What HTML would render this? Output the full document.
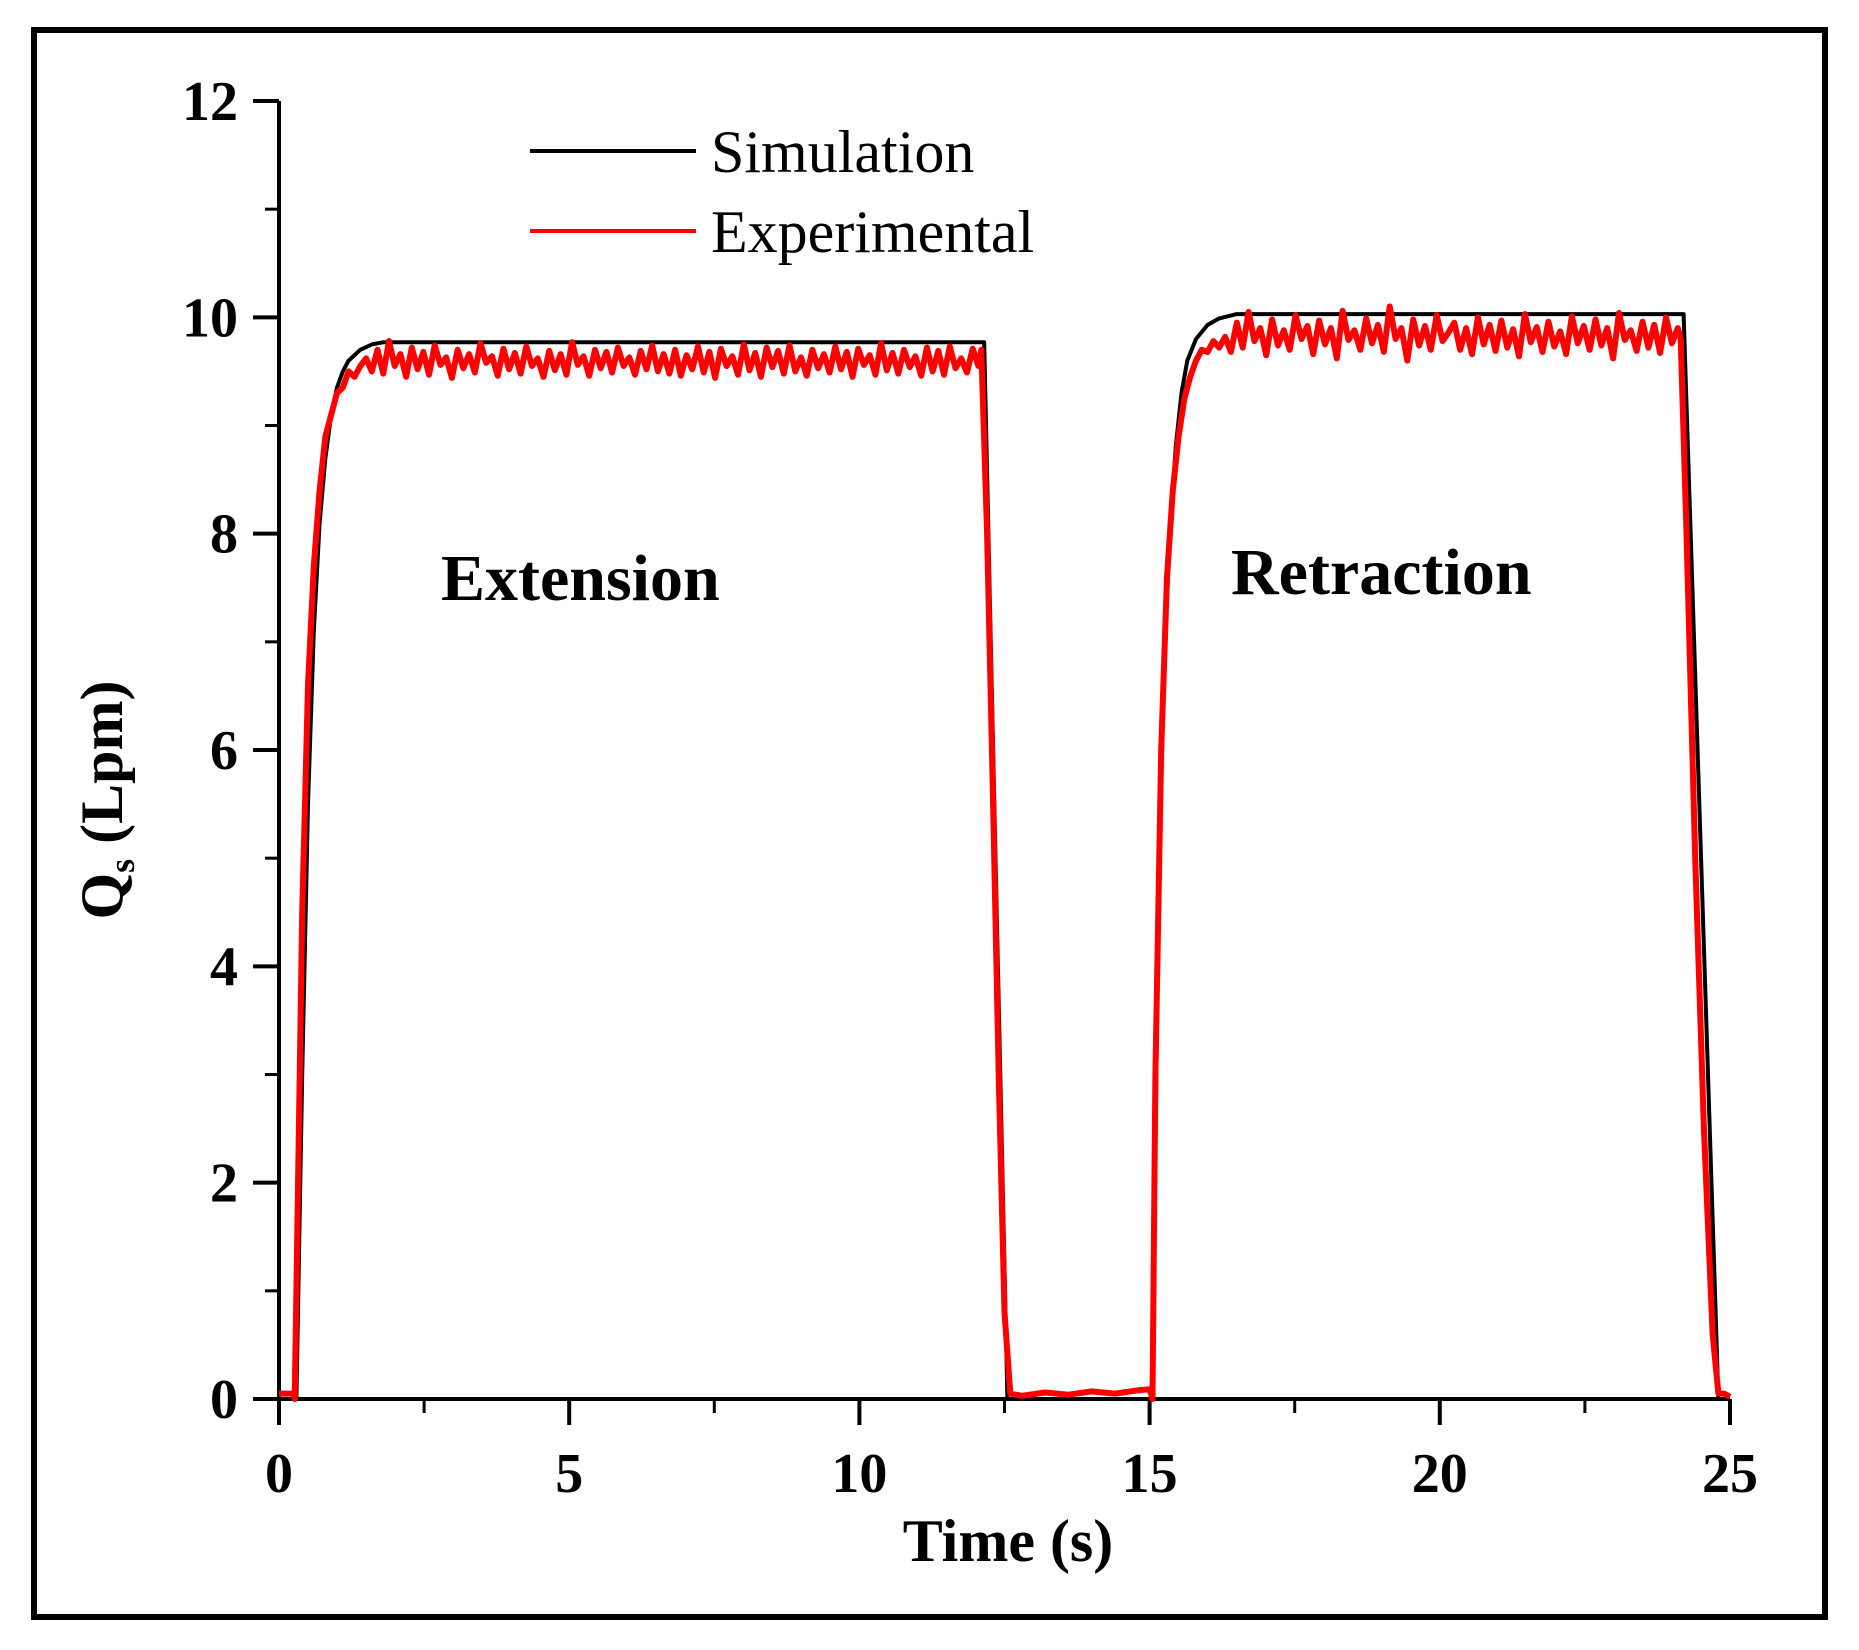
<!DOCTYPE html>
<html><head><meta charset="utf-8"><style>
html,body{margin:0;padding:0;background:#fff;}
svg{display:block;}
text{font-family:"Liberation Serif",serif;}
</style></head><body>
<svg id="chart" width="1859" height="1650" viewBox="0 0 1859 1650">
<rect x="34" y="30" width="1791" height="1587" fill="none" stroke="#000" stroke-width="6"/>
<g id="axes"></g>
<g id="series"></g>
<text x="1008" y="1561" font-size="60" font-weight="bold" text-anchor="middle">Time (s)</text>
<text transform="translate(122,800) rotate(-90)" font-size="60" font-weight="bold" text-anchor="middle">Q<tspan font-size="36" dy="12">s</tspan><tspan dy="-12"> (Lpm)</tspan></text>
<g>
<line x1="530" y1="151" x2="696" y2="151" stroke="#000" stroke-width="4"/>
<text x="711" y="172" font-size="60">Simulation</text>
<line x1="530" y1="231" x2="696" y2="231" stroke="#f00" stroke-width="4"/>
<text x="711" y="252" font-size="60">Experimental</text>
</g>
<text x="441" y="600" font-size="66" font-weight="bold">Extension</text>
<text x="1231" y="594" font-size="66" font-weight="bold">Retraction</text>
</svg>
<script>
const xTicks=[0,5,10,15,20,25];
const yTicks=[0,2,4,6,8,10,12];
const simT=[0,0.3,0.4,0.5,0.6,0.7,0.8,0.9,1.0,1.1,1.2,1.4,1.6,1.8,12.15,12.55,15.05,15.15,15.25,15.35,15.45,15.55,15.65,15.8,16.0,16.2,16.5,24.2,24.8,25];
const simQ=[0,0,3,5.5,7.1,8.1,8.7,9.1,9.35,9.5,9.6,9.7,9.75,9.77,9.77,0,0,4.5,6.8,8.0,8.8,9.3,9.6,9.8,9.93,9.99,10.03,10.03,0,0];
const expRiseT=[0,0.25,0.27,0.3,0.4,0.5,0.6,0.7,0.8,0.9,1.0,1.1,1.2,1.3,1.4];
const expRiseQ=[0.05,0.05,0.0,1.0,4.5,6.6,7.7,8.4,8.9,9.1,9.3,9.35,9.5,9.45,9.55];
const expPlat1=[9.62,9.5,9.7,9.48,9.78,9.55,9.66,9.45,9.72,9.52,9.68,9.47,9.74,9.56,9.63,9.44,9.7,9.53,9.66,9.49,9.76,9.58,9.64,9.46,9.71,9.52,9.67,9.48,9.73,9.55,9.62,9.45,9.69,9.51,9.66,9.47,9.77,9.56,9.64,9.46,9.7,9.53,9.68,9.49,9.72,9.55,9.63,9.47,9.69,9.52,9.74,9.5,9.66,9.48,
9.7,9.46,9.65,9.52,9.73,9.49,9.68,9.44,9.71,9.55,9.64,9.47,9.75,9.51,9.67,9.45,9.72,9.54,9.69,9.48,9.74,9.5,9.63,9.46,9.7,9.53,9.66,9.49,9.73,9.52,9.68,9.45,9.71,9.56,9.65,9.47,9.76,9.51,9.67,9.48,9.7,9.54,9.64,9.46,9.72,9.5,9.69,9.47,9.73,9.53,9.62,9.49,9.71,9.55];
const expFallT=[12.1,12.2,12.3,12.4,12.5,12.6,12.8,13.2,13.6,14.0,14.4,14.8,15.0,15.05,15.1,15.2,15.3,15.4,15.5,15.6,15.7,15.8,15.9,16.0,16.1,16.2];
const expFallQ=[9.7,8.0,5.6,3.0,0.8,0.05,0.03,0.06,0.04,0.07,0.05,0.08,0.09,0.0,3.0,6.0,7.6,8.4,8.9,9.25,9.45,9.6,9.7,9.68,9.78,9.72];
const expPlat2=[9.82,9.68,9.95,9.72,10.05,9.78,9.9,9.65,9.98,9.74,9.88,9.7,10.02,9.8,9.92,9.66,9.97,9.75,9.9,9.62,10.06,9.79,9.88,9.7,9.99,9.76,9.93,9.68,10.1,9.8,9.9,9.6,9.98,9.74,9.92,9.7,10.02,9.78,9.86,
9.95,9.7,9.9,9.66,10.0,9.75,9.93,9.69,9.97,9.72,9.89,9.64,10.03,9.77,9.91,9.68,9.96,9.73,9.87,9.66,10.01,9.76,9.92,9.7,9.98,9.74,9.9,9.62,10.04,9.79,9.88,9.69,9.96,9.72,9.93,9.67,10.0,9.76,9.9];
const expEndT=[24.15,24.25,24.4,24.55,24.7,24.8,24.9,25];
const expEndQ=[9.8,8.0,5.0,2.5,0.6,0.05,0.05,0.02];
const X0=279,X1=1730,Y0=1399,Y1=101;
const sx=t=>X0+(X1-X0)*t/25, sy=q=>Y0-(Y0-Y1)*q/12;
const NS='http://www.w3.org/2000/svg';
const axes=document.getElementById('axes'), ser=document.getElementById('series');
function mk(tag,attrs,parent){const e=document.createElementNS(NS,tag);for(const k in attrs)e.setAttribute(k,attrs[k]);parent.appendChild(e);return e;}
let e=mk('line',{x1:X0,y1:Y0,x2:X1,y2:Y0,stroke:'#000','stroke-width':4},axes);


e=mk('line',{x1:X0,y1:Y0,x2:X0,y2:Y1,stroke:'#000','stroke-width':4},axes);


for(let i=0;i<xTicks.length;i++){const x=sx(xTicks[i]);
e=mk('line',{x1:x,y1:Y0,x2:x,y2:Y0+26,stroke:'#000','stroke-width':4},axes);


if(i<xTicks.length-1){const xm=sx(xTicks[i]+2.5);e=mk('line',{x1:xm,y1:Y0,x2:xm,y2:Y0+14,stroke:'#000','stroke-width':3},axes);

}
e=mk('text',{x:x,y:1492,'font-size':56,'font-weight':'bold','text-anchor':'middle'},axes);e.textContent=xTicks[i];

}
for(let i=0;i<yTicks.length;i++){const y=sy(yTicks[i]);
e=mk('line',{x1:X0-26,y1:y,x2:X0,y2:y,stroke:'#000','stroke-width':4},axes);


if(i<yTicks.length-1){const ym=sy(yTicks[i]+1);e=mk('line',{x1:X0-14,y1:ym,x2:X0,y2:ym,stroke:'#000','stroke-width':3},axes);

}
e=mk('text',{x:238,y:y+19,'font-size':56,'font-weight':'bold','text-anchor':'end'},axes);e.textContent=yTicks[i];

}
let ept=[];
for(let i=0;i<expRiseT.length;i++)ept.push([expRiseT[i],expRiseQ[i]]);
for(let i=0;i<expPlat1.length;i++)ept.push([1.5+i*(12.05-1.5)/(expPlat1.length-1),expPlat1[i]]);
for(let i=0;i<expFallT.length;i++)ept.push([expFallT[i],expFallQ[i]]);
for(let i=0;i<expPlat2.length;i++)ept.push([16.3+i*(24.1-16.3)/(expPlat2.length-1),expPlat2[i]]);
for(let i=0;i<expEndT.length;i++)ept.push([expEndT[i],expEndQ[i]]);
let sp=[];for(let i=0;i<simT.length;i++)sp.push([simT[i],simQ[i]]);
e=mk('polyline',{points:sp.map(p=>sx(p[0]).toFixed(1)+','+sy(p[1]).toFixed(1)).join(' '),fill:'none',stroke:'#000','stroke-width':4,'stroke-linejoin':'round'},ser);


e=mk('polyline',{points:ept.map(p=>sx(p[0]).toFixed(1)+','+sy(p[1]).toFixed(1)).join(' '),fill:'none',stroke:'#f00','stroke-width':6,'stroke-linejoin':'round'},ser);


</script>
</body></html>
